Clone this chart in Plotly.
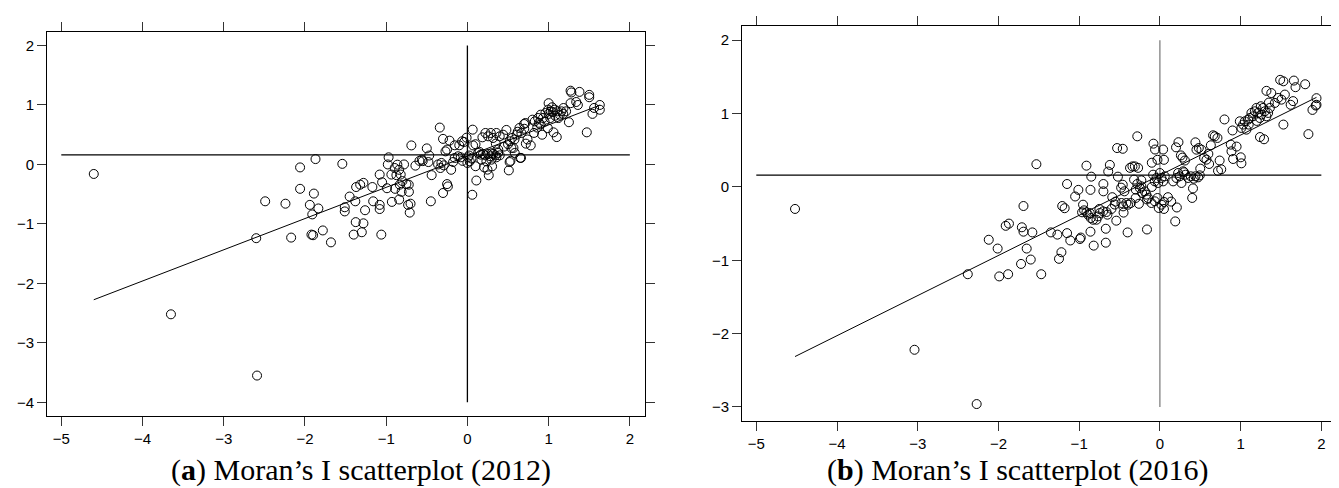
import plotly.graph_objects as go

# ---------------- data ----------------
x_2012 = [-4.60, -3.65, -2.59, -2.60, -2.49, -2.24, -2.17, -2.06, -2.06, -1.94, -1.91, -1.92, -1.90,
          -1.89, -1.87, -1.835, -1.78, -1.68, -1.54, -1.51, -1.51, -1.45, -1.40, -1.38, -1.375, -1.37,
          -1.32, -1.28, -1.30, -1.28, -1.26, -1.17, -1.16, -1.08, -1.08, -1.08, -1.06, -1.05, -0.99,
          -0.97, -0.98, -0.936, -0.895, -0.862, -0.841, -0.874, -0.821, -0.80, -0.833, -0.751, -0.722,
          -0.93, -0.89, -0.81, -0.78, -0.73, -0.72, -0.71, -0.70, -0.69, -0.64, -0.59, -0.56, -0.50,
          -0.47, -0.48, -0.44, -0.45, -0.361, -0.332, -0.32, -0.291, -0.34, -0.30, -0.30, -0.25, -0.25,
          -0.24, -0.22, -0.20, -0.176, -0.156, -0.115, -0.082, -0.156, -0.10, -0.065, -0.04, -0.01,
          0.008, 0.029, 0.05, 0.0, 0.065, 0.07, 0.06, 0.10, 0.11, 0.10, 0.132, 0.165, 0.193, 0.222,
          0.255, 0.284, 0.316, 0.345, 0.378, 0.398, 0.173, 0.234, 0.296, 0.357, 0.185, 0.222, 0.255,
          0.288, 0.316, 0.357, 0.398, 0.44, 0.206, 0.247, 0.263, 0.304, 0.48, 0.50, 0.51, 0.522, 0.55,
          0.542, 0.567, 0.583, 0.53, 0.608, 0.641, 0.665, 0.698, 0.714, 0.65, 0.74, 0.78, 0.801, 0.83,
          0.871, 0.903, 0.932, 0.961, 0.994, 1.027, 1.043, 1.076, 1.109, 1.138, 1.158, 1.183, 1.215,
          0.92, 0.99, 1.00, 1.06, 1.10, 1.25, 1.27, 1.28, 1.38, 1.50, 1.50, 1.27, 1.34, 1.36, 1.47,
          1.54, 1.56, 1.63, 1.63, 0.88, 0.95, 1.02, 1.08, 1.12, 0.86, 1.00, 1.05, 0.15, 0.30, 0.02,
          -0.84, -0.55, -0.27, -0.06, 0.52, 0.66, 0.72, 0.82, 1.18, 0.90, 0.62, 0.45, 0.38, 0.58,
          0.70, 0.35]
y_2012 = [-0.16, -2.52, -3.55, -1.24, -0.62, -0.66, -1.23, -0.05, -0.41, -0.68, -0.84, -1.18, -1.19,
          -0.49, 0.09, -0.74, -1.11, -1.31, 0.01, -0.72, -0.79, -0.54, -1.18, -0.62, -0.97, -0.38,
          -0.34, -0.31, -1.14, -0.99, -0.77, -0.38, -0.62, -0.68, -0.75, -0.17, -1.18, -0.30, -0.40,
          0.12, 0.00, -0.17, -0.06, -0.004, -0.09, -0.18, -0.17, -0.28, -0.34, -0.33, -0.34,
          -0.63, -0.41, -0.46, 0.00, -0.68, -0.46, -0.81, -0.66, 0.32, -0.02, 0.06, 0.08, 0.27,
          0.15, 0.04, -0.18, -0.62, 0.00, -0.06, 0.025, -0.015, 0.62, 0.43, -0.48, 0.25, -0.33,
          -0.37, 0.40, -0.09, 0.041, 0.109, 0.137, 0.12, 0.322, 0.322, 0.389, 0.378, 0.45,
          0.12, 0.052, 0.10, 0.025, 0.585, 0.32, -0.51, -0.03, -0.27, 0.34, 0.193, 0.165, 0.176, 0.153,
          0.176, 0.137, 0.176, 0.153, 0.193, 0.153, 0.08, 0.052, 0.08, 0.12, 0.456, 0.529, 0.473,
          0.529, 0.445, 0.529, 0.473, 0.50, -0.048, -0.088, -0.183, -0.032, 0.58, 0.34, -0.10, 0.389, 0.445,
          0.277, 0.277, 0.193, 0.06, 0.501, 0.613, 0.529, 0.68, 0.697, 0.11, 0.42, 0.32, 0.753, 0.725,
          0.781, 0.837, 0.781, 0.865, 0.921, 0.893, 0.961, 0.921, 0.893, 0.837, 0.893, 0.949, 0.893,
          0.50, 0.61, 1.03, 0.54, 0.46, 0.71, 1.24, 1.21, 1.22, 1.17, 1.13, 1.03, 1.05, 1.00, 0.54,
          0.85, 0.95, 1.00, 0.92, 0.70, 0.72, 0.78, 0.82, 0.78, 0.62, 0.85, 0.88, 0.21, 0.19, 0.15,
          -0.59, 0.056, 0.22, 0.06, 0.04, 0.11, 0.35, 0.53, 0.85, 0.67, 0.55, 0.30, 0.25, 0.42,
          0.60, 0.35]

x_2016 = [-4.52, -3.04, -2.27, -2.38, -2.12, -2.01, -1.99, -1.88, -1.91, -1.87, -1.71, -1.69, -1.72,
          -1.65, -1.60, -1.69, -1.58, -1.53, -1.47, -1.35, -1.27, -1.22, -1.25, -1.21, -1.18, -1.15,
          -1.15, -1.11, -0.99, -0.98, -1.05, -1.01, -0.964, -0.939, -0.91, -0.89, -0.869, -0.856,
          -0.828, -0.786, -0.766, -0.745, -0.704, -0.662, -0.65, -0.952, -0.91, -0.85, -0.86, -0.86,
          -0.82, -0.67, -0.67, -0.70, -0.70, -0.64, -0.62, -0.59, -0.56, -0.54, -0.53, -0.46, -0.52,
          -0.48, -0.46, -0.44, -0.415, -0.361, -0.394, -0.476, -0.456, -0.40, -0.37, -0.34, -0.31,
          -0.27, -0.28, -0.32, -0.28, -0.23, -0.299, -0.249, -0.22, -0.187, -0.167, -0.146, -0.229,
          -0.26, -0.16, -0.16, -0.08, -0.06, 0.04, -0.10, -0.03, 0.05, -0.084, -0.043, -0.001, 0.019,
          0.04, 0.06, -0.022, -0.063, -0.105, -0.063, -0.014, 0.019, -0.03, 0.052, 0.10, 0.14, 0.19,
          0.21, 0.164, 0.205, 0.226, 0.246, 0.267, 0.288, 0.317, 0.35, 0.383, 0.42, 0.44, 0.474, 0.494,
          0.20, 0.23, 0.26, 0.28, 0.31, 0.41, 0.40, 0.44, 0.453, 0.482, 0.515, 0.548, 0.577, 0.61,
          0.631, 0.659, 0.68, 0.713, 0.74, 0.72, 0.76, 0.80, 0.878, 0.887, 0.907, 1.002, 1.01, 0.90,
          0.99, 1.01, 1.031, 1.052, 1.072, 1.093, 1.114, 1.134, 1.155, 1.176, 1.196, 1.217, 1.238,
          1.258, 1.279, 1.30, 1.32, 1.341, 1.362, 1.24, 1.29, 1.32, 1.38, 1.424, 1.465, 1.506, 1.548,
          1.49, 1.53, 1.66, 1.68, 1.80, 1.53, 1.62, 1.65, 1.84, 1.89, 1.94, 1.94, 1.93,
          -0.55, -0.45, -0.30, 0.30, 0.60, 0.50, -0.75, -0.60, 1.10, 1.20, 1.35, 1.25, 0.95, 0.05,
          -0.10]
y_2016 = [-0.30, -2.22, -2.96, -1.19, -0.72, -0.84, -1.22, -1.19, -0.53, -0.50, -0.55, -0.61, -1.05,
          -0.84, -0.99, -0.26, -0.62, 0.31, -1.19, -0.62, -0.65, -0.89, -0.98, -0.26, -0.29, 0.04,
          -0.63, -0.73, -0.71, -0.69, -0.13, -0.04, -0.346, -0.319, -0.346, -0.378, -0.356, -0.424,
          -0.447, -0.447, -0.401, -0.356, -0.333, -0.342, -0.378, -0.242, 0.29, 0.14, -0.04, -0.61,
          -0.80, -0.57, -0.76, -0.06, 0.04, 0.21, 0.30, -0.14, -0.24, -0.46, 0.53, 0.52, 0.14,
          -0.01, 0.03, -0.06, -0.219, -0.219, -0.242, -0.219, -0.265, -0.62, 0.26, 0.28, 0.28,
          0.26, 0.69, 0.10, 0.04, 0.09, -0.037, -0.014, -0.083, -0.06, -0.105, -0.151, 0.008,
          -0.23, -0.17, -0.58, 0.59, 0.51, 0.51, 0.33, 0.37, 0.37, 0.167, 0.122, 0.19, 0.122,
          0.076, 0.145, 0.054, 0.076, -0.219, -0.196, -0.287, -0.242, -0.151, -0.205, -0.14, -0.20, -0.47,
          -0.28, 0.076, 0.122, 0.19, 0.145, 0.054, 0.213, 0.167, 0.122, 0.145, 0.113, 0.145, 0.131, 0.158,
          0.54, 0.61, 0.43, 0.40, 0.36, -0.02, -0.15, 0.608, 0.508, 0.531, 0.508, 0.395, 0.372, 0.313,
          0.568, 0.704, 0.690, 0.668, 0.36, 0.22, 0.24, 0.92, 0.577, 0.486, 0.381, 0.404, 0.322, 0.77,
          0.895, 0.804, 0.85, 0.895, 0.781, 0.918, 0.94, 1.009, 0.963, 1.031, 1.077, 1.009, 0.94,
          0.986, 1.077, 1.031, 0.963, 1.009, 1.077, 0.68, 0.65, 1.31, 1.28, 1.145, 1.213, 1.19, 1.259,
          1.46, 1.44, 1.45, 1.36, 1.40, 0.85, 1.12, 1.17, 0.72, 1.05, 1.21, 1.12, 1.11,
          -0.20, -0.35, -0.15, 0.20, 0.45, 0.25, -0.30, -0.30, 0.85, 0.90, 1.15, 1.10, 0.55, -0.30,
          0.00]

# fitted Moran's I regression lines and mean of spatial lag
slope_2012, intercept_2012 = 0.525, 0.14
slope_2016, intercept_2016 = 0.547, 0.16
lag_mean_2012 = 0.16
lag_mean_2016 = 0.16

x_ticks = [-5, -4, -3, -2, -1, 0, 1, 2]
y_ticks_2012 = [-4, -3, -2, -1, 0, 1, 2]
y_ticks_2016 = [-3, -2, -1, 0, 1, 2]

captions = ["(<b>a</b>) Moran’s I scatterplot (2012)", "(<b>b</b>) Moran’s I scatterplot (2016)"]

# ---------------- figure ----------------
W, H = 1339, 488
fig = go.Figure()

panels = [
    dict(x=x_2012, y=y_2012, slope=slope_2012, icpt=intercept_2012, lag=lag_mean_2012,
         yt=y_ticks_2012, xa="x", ya="y", vcolor="#000000"),
    dict(x=x_2016, y=y_2016, slope=slope_2016, icpt=intercept_2016, lag=lag_mean_2016,
         yt=y_ticks_2016, xa="x2", ya="y2", vcolor="#808080"),
]

for p in panels:
    # horizontal line at mean lag
    fig.add_trace(go.Scatter(x=[min(x_ticks), max(x_ticks)], y=[p["lag"], p["lag"]],
                             mode="lines", line=dict(color="#000000", width=1.2),
                             xaxis=p["xa"], yaxis=p["ya"], showlegend=False, hoverinfo="skip"))
    # vertical line at x = 0
    fig.add_trace(go.Scatter(x=[0, 0], y=[min(p["yt"]), max(p["yt"])],
                             mode="lines", line=dict(color=p["vcolor"], width=1.3),
                             xaxis=p["xa"], yaxis=p["ya"], showlegend=False, hoverinfo="skip"))
    # regression line across data range
    x0, x1 = min(p["x"]), max(p["x"])
    fig.add_trace(go.Scatter(x=[x0, x1], y=[p["icpt"] + p["slope"] * x0, p["icpt"] + p["slope"] * x1],
                             mode="lines", line=dict(color="#000000", width=1),
                             xaxis=p["xa"], yaxis=p["ya"], showlegend=False, hoverinfo="skip"))
    # points
    fig.add_trace(go.Scatter(x=p["x"], y=p["y"], mode="markers",
                             marker=dict(symbol="circle-open", size=9, color="#000000",
                                         line=dict(width=1, color="#000000")),
                             xaxis=p["xa"], yaxis=p["ya"], showlegend=False))

axis_common = dict(showline=True, linecolor="#000000", linewidth=1, mirror="allticks",
                   ticks="outside", ticklen=9, tickwidth=1, tickcolor="#333333",
                   showgrid=False, zeroline=False,
                   tickfont=dict(family="Liberation Sans, Arial, sans-serif", size=15, color="#000000"))

def px_x(a, b):
    return [a / W, b / W]

def px_y(top, bottom):
    return [1 - bottom / H, 1 - top / H]

fig.update_layout(
    width=W, height=H, margin=dict(l=0, r=0, t=0, b=0),
    paper_bgcolor="#ffffff", plot_bgcolor="#ffffff",
    xaxis=dict(axis_common, domain=px_x(39, 636.7), range=[-5.176, 2.183], tickvals=x_ticks, anchor="y"),
    yaxis=dict(axis_common, domain=px_y(24, 408.3), range=[-4.235, 2.227], tickvals=y_ticks_2012, anchor="x"),
    xaxis2=dict(axis_common, domain=px_x(734, 1327.3), range=[-5.177, 2.173], tickvals=x_ticks, anchor="y2"),
    yaxis2=dict(axis_common, domain=px_y(18.3, 412.7), range=[-3.187, 2.19], tickvals=y_ticks_2016, anchor="x2"),
)

for cap, cx in zip(captions, [353, 1010]):
    fig.add_annotation(text=cap, x=cx / W, y=1 - 462 / H, xref="paper", yref="paper",
                       xanchor="center", yanchor="middle", showarrow=False,
                       font=dict(family="Liberation Serif, Times New Roman, serif", size=30, color="#000000"))

fig.write_html("out.html")
